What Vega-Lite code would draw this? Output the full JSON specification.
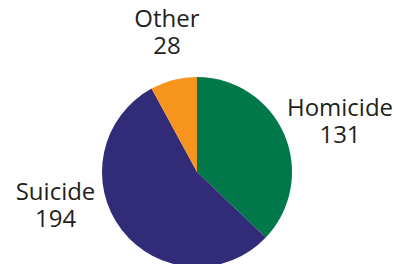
{
  "$schema": "https://vega.github.io/schema/vega-lite/v6.json",
  "width": 394,
  "height": 344,
  "autosize": "none",
  "padding": 0,
  "background": "white",
  "view": {"stroke": null},
  "data": {"values": [
    {"category": "Homicide", "count": 131, "rank": 1},
    {"category": "Suicide", "count": 194, "rank": 2},
    {"category": "Other", "count": 28, "rank": 3}
  ]},
  "transform": [{"calculate": "datum.category + '\\n' + datum.count", "as": "label"}],
  "encoding": {
    "theta": {"field": "count", "type": "quantitative", "stack": true},
    "order": {"field": "rank", "type": "quantitative"},
    "color": {
      "field": "category",
      "type": "nominal",
      "scale": {"domain": ["Homicide", "Suicide", "Other"], "range": ["#00784A", "#312B78", "#F7941D"]},
      "legend": null
    }
  },
  "layer": [
    {"mark": {"type": "arc", "outerRadius": 95}},
    {
      "mark": {"type": "text", "radius": 156.4, "thetaOffset": -0.012, "font": "Open Sans", "fontSize": 24, "lineBreak": "\n", "lineHeight": 27, "align": "center", "baseline": "middle"},
      "encoding": {
        "text": {"condition": {"test": "datum.category === 'Homicide'", "field": "label"}, "value": ""},
        "fill": {"value": "#231F20"}
      }
    },
    {
      "mark": {"type": "text", "radius": 143.0, "thetaOffset": 0.508, "font": "Open Sans", "fontSize": 24, "lineBreak": "\n", "lineHeight": 27, "align": "center", "baseline": "middle"},
      "encoding": {
        "text": {"condition": {"test": "datum.category === 'Suicide'", "field": "label"}, "value": ""},
        "fill": {"value": "#231F20"}
      }
    },
    {
      "mark": {"type": "text", "radius": 155.0, "thetaOffset": 0.054, "font": "Open Sans", "fontSize": 24, "lineBreak": "\n", "lineHeight": 27, "align": "center", "baseline": "middle"},
      "encoding": {
        "text": {"condition": {"test": "datum.category === 'Other'", "field": "label"}, "value": ""},
        "fill": {"value": "#231F20"}
      }
    }
  ]
}
